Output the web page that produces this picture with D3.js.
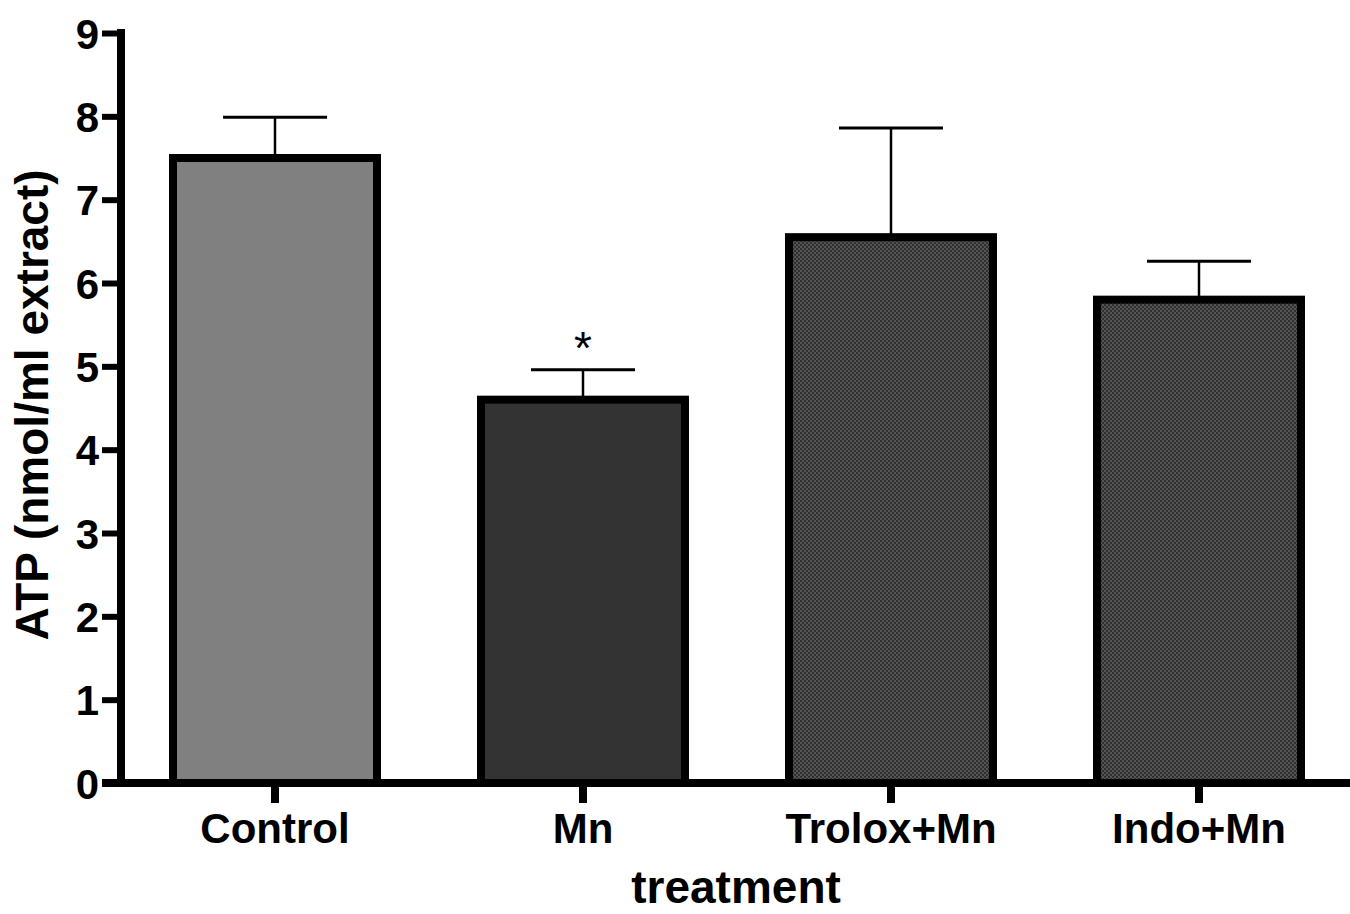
<!DOCTYPE html>
<html>
<head>
<meta charset="utf-8">
<script src="https://cdn.jsdelivr.net/npm/d3@7"></script>
<style>
  html, body { margin: 0; padding: 0; background: #fff; }
  svg { display: block; }
  text { font-family: "Liberation Sans", Arial, sans-serif; font-weight: bold; fill: #000; }
</style>
</head>
<body>
<svg id="chart" width="1350" height="914"></svg>
<script>
// Data
const categories = ["Control", "Mn", "Trolox+Mn", "Indo+Mn"];
const means = [7.50, 4.60, 6.55, 5.80];
const errors = [0.49, 0.36, 1.31, 0.46];
const significance = ["", "*", "", ""];
const yTicks = [0, 1, 2, 3, 4, 5, 6, 7, 8, 9];
const fills = ["#808080", "#333333", "url(#checker)", "url(#checker)"];

const svg = d3.select("#chart");

// pattern
const defs = svg.append("defs");
const pat = defs.append("pattern")
  .attr("id", "checker").attr("patternUnits", "userSpaceOnUse")
  .attr("width", 4).attr("height", 4);
pat.append("rect").attr("width", 4).attr("height", 4).attr("fill", "#555555");
pat.append("rect").attr("x", 0).attr("y", 0).attr("width", 2).attr("height", 2).attr("fill", "#2f2f2f");
pat.append("rect").attr("x", 2).attr("y", 2).attr("width", 2).attr("height", 2).attr("fill", "#2f2f2f");

const y = d3.scaleLinear().domain([0, 9]).range([783, 33]);
const x = d3.scaleBand().domain(categories).range([121, 1353])
  .paddingInner(0.3377).paddingOuter(0.3377 / 2);

// bars
const g = svg.append("g");
const bw = x.bandwidth();

// error bars (drawn first so bar outline covers the joint)
categories.forEach((c, i) => {
  const cx = x(c) + bw / 2;
  g.append("line")
    .attr("x1", cx).attr("x2", cx)
    .attr("y1", y(means[i])).attr("y2", y(means[i] + errors[i]))
    .attr("stroke", "#000").attr("stroke-width", 2.5);
  g.append("line")
    .attr("x1", cx - 52).attr("x2", cx + 52)
    .attr("y1", y(means[i] + errors[i])).attr("y2", y(means[i] + errors[i]))
    .attr("stroke", "#000").attr("stroke-width", 3);
});

g.selectAll("rect.bar").data(categories).enter().append("rect")
  .attr("class", "bar")
  .attr("x", d => x(d))
  .attr("width", bw)
  .attr("y", (d, i) => y(means[i]))
  .attr("height", (d, i) => y(0) - y(means[i]))
  .attr("fill", (d, i) => fills[i])
  .attr("stroke", "#000")
  .attr("stroke-width", 8);

// significance
categories.forEach((c, i) => {
  if (significance[i]) {
    g.append("text")
      .attr("x", x(c) + bw / 2)
      .attr("y", y(means[i] + errors[i]) - 6)
      .attr("text-anchor", "middle")
      .style("font-size", "46px")
      .style("font-weight", "normal")
      .text(significance[i]);
  }
});

// Y axis
const yAxis = d3.axisLeft(y).tickValues(yTicks).tickSize(19).tickPadding(3).tickFormat(d3.format("d"));
const ya = svg.append("g").attr("transform", "translate(121,0)").call(yAxis);
ya.select(".domain").remove();
ya.selectAll(".tick line").attr("stroke", "#000").attr("stroke-width", 6);
ya.selectAll(".tick text").style("font-size", "42px").attr("dy", "0.36em");
svg.append("line").attr("x1", 121).attr("x2", 121).attr("y1", 29).attr("y2", 787)
  .attr("stroke", "#000").attr("stroke-width", 8);

// X axis
const xAxis = d3.axisBottom(x).tickSize(20).tickPadding(8);
const xa = svg.append("g").attr("transform", "translate(0,783)").call(xAxis);
xa.select(".domain").remove();
xa.selectAll(".tick line").attr("stroke", "#000").attr("stroke-width", 8);
xa.selectAll(".tick text").style("font-size", "42px").attr("dy", "0.76em");
svg.append("line").attr("x1", 102).attr("x2", 1350).attr("y1", 783).attr("y2", 783)
  .attr("stroke", "#000").attr("stroke-width", 8);

// axis titles
svg.append("text").attr("x", 736).attr("y", 903).attr("text-anchor", "middle")
  .style("font-size", "46px").text("treatment");
svg.append("text").attr("transform", "translate(48,405) rotate(-90)")
  .attr("text-anchor", "middle").style("font-size", "46px").text("ATP (nmol/ml extract)");
</script>
</body>
</html>
